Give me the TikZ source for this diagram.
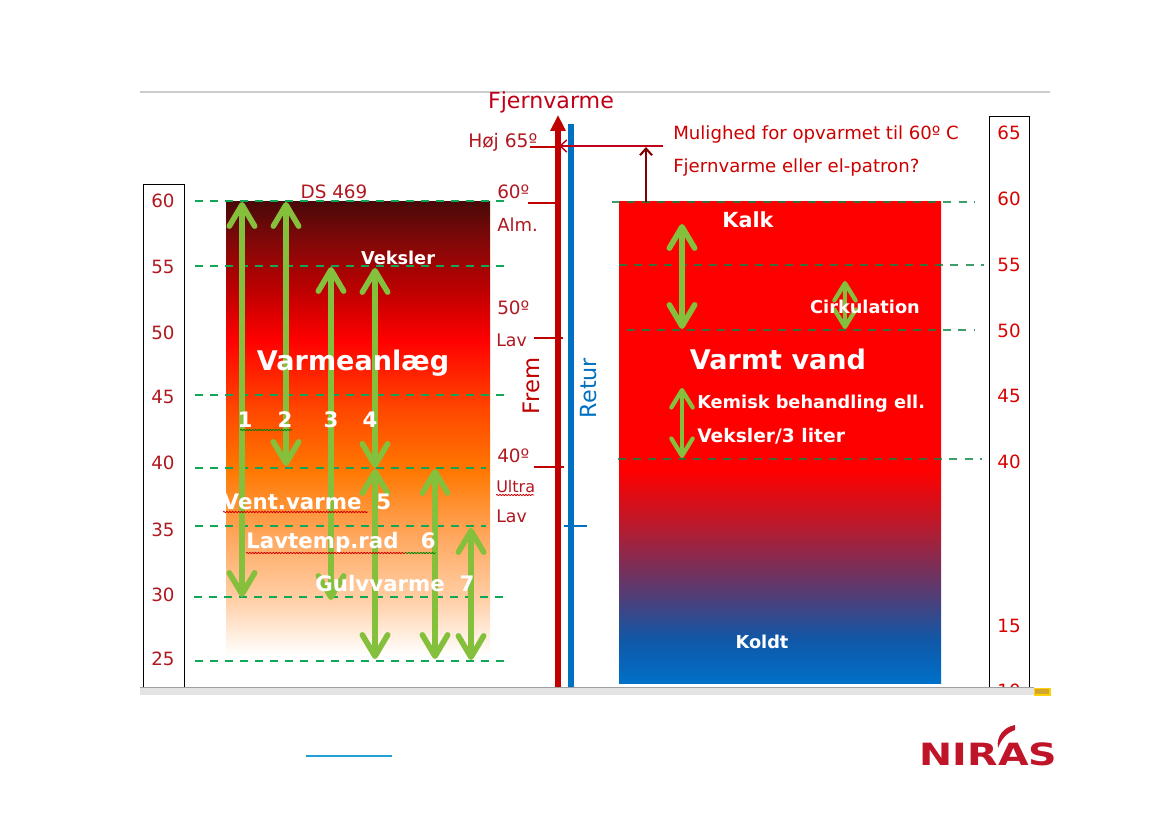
\documentclass[tikz,border=0pt]{standalone}
\usepackage{xcolor}
\usepackage{fontspec}
\setmainfont{DejaVu Sans}
\usepackage{tikz}
\usetikzlibrary{arrows.meta}
\usetikzlibrary{decorations.pathmorphing}
\definecolor{scalered}{HTML}{B01820}
\definecolor{titlered}{HTML}{C00018}
\definecolor{pipered}{HTML}{C00000}
\definecolor{pipeblue}{HTML}{0070C0}
\definecolor{arrowgreen}{HTML}{84C03C}
\definecolor{dashgreen}{HTML}{10A858}
\definecolor{logored}{HTML}{C01428}
\definecolor{fa}{HTML}{FFD0A8}
\definecolor{fb}{HTML}{FFA860}
\definecolor{fc}{HTML}{FF7800}
\definecolor{fd}{HTML}{FF4800}
\definecolor{fe}{HTML}{C00000}
\definecolor{ff}{HTML}{800808}
\definecolor{fg}{HTML}{4A0808}
\definecolor{va}{HTML}{0070C8}
\definecolor{vb}{HTML}{1058A8}
\definecolor{vc}{HTML}{5A3A70}
\definecolor{vd}{HTML}{C01828}
\pgfdeclareverticalshading{anlaegfade}{100bp}{
  color(0bp)=(white); color(25bp)=(white); color(31bp)=(fa);
  color(38bp)=(fb); color(45.4bp)=(fc); color(52bp)=(fd); color(59.8bp)=(red);
  color(65bp)=(fe); color(70.8bp)=(ff); color(75bp)=(fg); color(100bp)=(fg)}
\pgfdeclareverticalshading{vandfade}{100bp}{
  color(0bp)=(va); color(25bp)=(va); color(29.5bp)=(vb); color(34.7bp)=(vc);
  color(41.9bp)=(vd); color(47.1bp)=(red); color(75bp)=(red); color(100bp)=(red)}
\begin{document}
\begin{tikzpicture}[x=.75pt,y=-.75pt,>=Stealth]
	\tikzstyle{scalebox}=[draw=black,line width=.65pt]
	\tikzstyle{tal}=[text=scalered,font=\fontsize{13.7}{15}\selectfont,anchor=center]
	\tikzstyle{rtal}=[tal,text=red!85!black]
	\tikzstyle{lille}=[text=scalered,font=\fontsize{13.5}{15}\selectfont,anchor=west,inner sep=0pt]
	\tikzstyle{hvid}=[text=white,font=\bfseries\fontsize{13.3}{15}\selectfont,inner sep=0pt]
	\tikzstyle{stor}=[text=white,font=\bfseries\fontsize{16}{18}\selectfont,inner sep=0pt]
	\tikzstyle{level}=[draw=dashgreen,line width=1.5pt,dash pattern=on 6pt off 5.3pt]
	\tikzstyle{levelr}=[level,draw=dashgreen!80!black,opacity=.8]
	\tikzstyle{dobbelt}=[draw=arrowgreen,line width=4.4pt,
		{Straight Barb[length=16pt,width=19pt,line width=4.2pt,round]}-{Straight Barb[length=16pt,width=19pt,line width=4.2pt,round]}]
	\tikzstyle{tynd}=[draw=arrowgreen,line width=3pt,
		{Straight Barb[length=13pt,width=16pt,line width=3.2pt,round]}-{Straight Barb[length=13pt,width=16pt,line width=3.2pt,round]}]
	\tikzstyle{maerke}=[draw=pipered,line width=1.2pt]
	\tikzstyle{krus}=[draw=red!80!black,line width=.6pt,decorate,decoration={snake,amplitude=.5pt,segment length=2.2pt}]
	\useasboundingbox (0,0) rectangle (1169,827);
	\draw[gray!40,line width=1.2pt] (140,92) -- (1050,92);

	% temperature columns
	\draw[scalebox] (143,687) |- (184,184) -- (184,687);
	\draw[scalebox] (989,687) |- (1029,116) -- (1029,687);
	\foreach \t/\yy in {60/201,55/267,50/333,45/397,40/463,35/530,30/595,25/659}
		\node[tal] (v\t) at (163,\yy) {\t};
	\foreach \t/\yy in {65/133,60/199,55/265,50/331,45/396,40/462,15/626,10/691}
		\node[rtal] (h\t) at (1009,\yy) {\t};

	% heated bars
	\shade[shading=anlaegfade] (226,202) rectangle (490,655);
	\shade[shading=vandfade] (619,202) rectangle (941,683);

	% levels
	\foreach \a/\b/\yy in {195/508/201,195/508/266,195/508/395,195/486/468,195/486/526,194/508/597,195/508/661}
		\draw[level] (\a,\yy) -- (\b,\yy);
	\foreach \a/\b/\yy in {612/975/202,619/984/265,627/975/330,618/982/459}
		\draw[levelr] (\a,\yy) -- (\b,\yy);

	% green arrows left
	\foreach \n/\xx/\a/\b in {a1/242/202/597,a2/286/202/466,a3/331/267/600,a4/375/268/468,a5/375/469/659,a6/435/469/659,a7/471/528/660}{
		\coordinate (\n t) at (\xx,\a);
		\coordinate (\n b) at (\xx,\b);
		\draw[dobbelt] (\n t) -- (\n b);
	}
	% green arrows right
	\coordinate (kt) at (682,224);
	\coordinate (kb) at (682,329);
	\draw[dobbelt] (kt) -- (kb);
	\coordinate (ct) at (845,281);
	\coordinate (cb) at (845,329);
	\draw[tynd] (ct) -- (cb);
	\coordinate (bt) at (682,388);
	\coordinate (bb) at (682,458);
	\draw[tynd] (bt) -- (bb);

	% texts in the bars
	\node[stor,font=\bfseries\fontsize{20.3}{22}\selectfont] (anlaeg) at (353,363) {Varmeanlæg};
	\node[hvid] (veksler) at (398,258) {Veksler};
	\foreach \n/\xx in {1/245,2/285,3/331,4/370}
		\node[stor] (n\n) at (\xx,420) {\n};
	\node[stor] (vent) at (307,502) {Vent.varme\ \ 5};
	\node[stor] (lavt) at (341,543) {Lavtemp.rad\ \ \ 6};
	\node[stor] (gulv) at (395,584) {Gulvvarme\ \ 7};
	\draw[krus] (223,512) -- (368,512);
	\draw[krus] (246,553) -- (405,553);
	\draw[krus,draw=green!50!black] (405,553) -- (436,553);
	\draw[krus,draw=green!50!black] (240,430) -- (292,430);
	\node[hvid,font=\bfseries\fontsize{15.6}{17}\selectfont] (kalk) at (748,220) {Kalk};
	\node[hvid] (cirk) at (865,307) {Cirkulation};
	\node[stor,font=\bfseries\fontsize{20.3}{22}\selectfont] (varmt) at (778,359) {Varmt vand};
	\node[hvid,anchor=west] (kemisk) at (697,404) {Kemisk behandling ell.};
	\node[hvid,anchor=west,font=\bfseries\fontsize{14}{16}\selectfont] (veks3) at (697,436) {Veksler/3 liter};
	\node[hvid] (koldt) at (762,642) {Koldt};

	% pipes
	\coordinate (fbund) at (558,687);
	\coordinate (ftop) at (558,115);
	\coordinate (rbund) at (571,687);
	\coordinate (rtop) at (571,124);
	\draw[pipered,line width=4pt,-{Triangle[length=12pt,width=11pt]}] (fbund) -- (ftop);
	\draw[pipeblue,line width=4pt] (rbund) -- (rtop);
	\node[text=titlered,font=\fontsize{16.6}{18}\selectfont] (fjern) at (551,102) {Fjernvarme};
	\node[text=pipered,rotate=90,font=\fontsize{17}{19}\selectfont] (frem) at (531,386) {Frem};
	\node[text=pipeblue,rotate=90,font=\fontsize{16.7}{19}\selectfont] (retur) at (589,388) {Retur};

	% marks along the pipes
	\node[lille,font=\fontsize{14}{16}\selectfont] (hoej) at (468,142) {Høj 65º};
	\node[lille,font=\fontsize{13.8}{15}\selectfont] (t60) at (497,192) {60º};
	\node[lille] (alm) at (497,225) {Alm.};
	\node[lille,font=\fontsize{13.8}{15}\selectfont] (t50) at (497,308) {50º};
	\node[lille,font=\fontsize{13}{15}\selectfont] (lav) at (496,340) {Lav};
	\node[lille,font=\fontsize{13.8}{15}\selectfont] (t40) at (497,456) {40º};
	\node[lille,font=\fontsize{12}{14}\selectfont] (ultra) at (496,487) {Ultra};
	\node[lille,font=\fontsize{13}{15}\selectfont] (ulav) at (496,516) {Lav};
	\node[text=scalered,font=\fontsize{13.8}{15}\selectfont] (ds) at (334,192) {DS 469};
	\draw[krus] (496,495) -- (534,495);
	\draw[maerke] (530,147) -- (556,147);
	\draw[maerke] (528,203) -- (556,203);
	\draw[maerke] (534,338) -- (563,338);
	\draw[maerke] (534,467) -- (564,467);
	\draw[pipeblue,line width=1.2pt] (564,526) -- (587,526);

	% possibility
	\coordinate (muli) at (663,146);
	\coordinate (mulipil) at (559,146);
	\coordinate (barn) at (646,202);
	\coordinate (barp) at (646,147);
	\draw[->,draw=titlered,line width=1.1pt,>={Straight Barb[length=5pt,width=9pt]}] (muli) -- (mulipil);
	\draw[->,draw=red!50!black,line width=1.6pt,>={Straight Barb[length=5pt,width=9pt]}] (barn) -- (barp);
	\node[text=red!80!black,font=\fontsize{13.6}{15}\selectfont,anchor=west,inner sep=0pt] (mulig) at (673,134) {Mulighed for opvarmet til 60º C};
	\node[text=red!80!black,font=\fontsize{13.6}{15}\selectfont,anchor=west,inner sep=0pt] (spm) at (673,167) {Fjernvarme eller el-patron?};

	% window bar and footer
	\fill[white] (140,695) rectangle (1169,827);
	\fill[gray!22] (140,688) rectangle (1034,695);
	\draw[gray!75,line width=.8pt] (140,687.5) -- (1034,687.5);
	\fill[brown!70!yellow,draw=yellow!70!orange,line width=.8pt] (1034.5,688.5) rectangle (1050,695);
	\draw[cyan!70!teal,line width=.8pt] (306,756) -- (392,756);

	% logo
	\node[text=logored,inner sep=0pt,font=\bfseries\fontsize{23}{25}\selectfont,xscale=1.29] (niras) at (988.5,754) {NIRAS};
	\fill[logored] (1015,725) .. controls (1004,727) and (996,736) .. (998,748)
		.. controls (1001,740) and (1006,733) .. (1015,730) -- cycle;
\end{tikzpicture}
\end{document}
